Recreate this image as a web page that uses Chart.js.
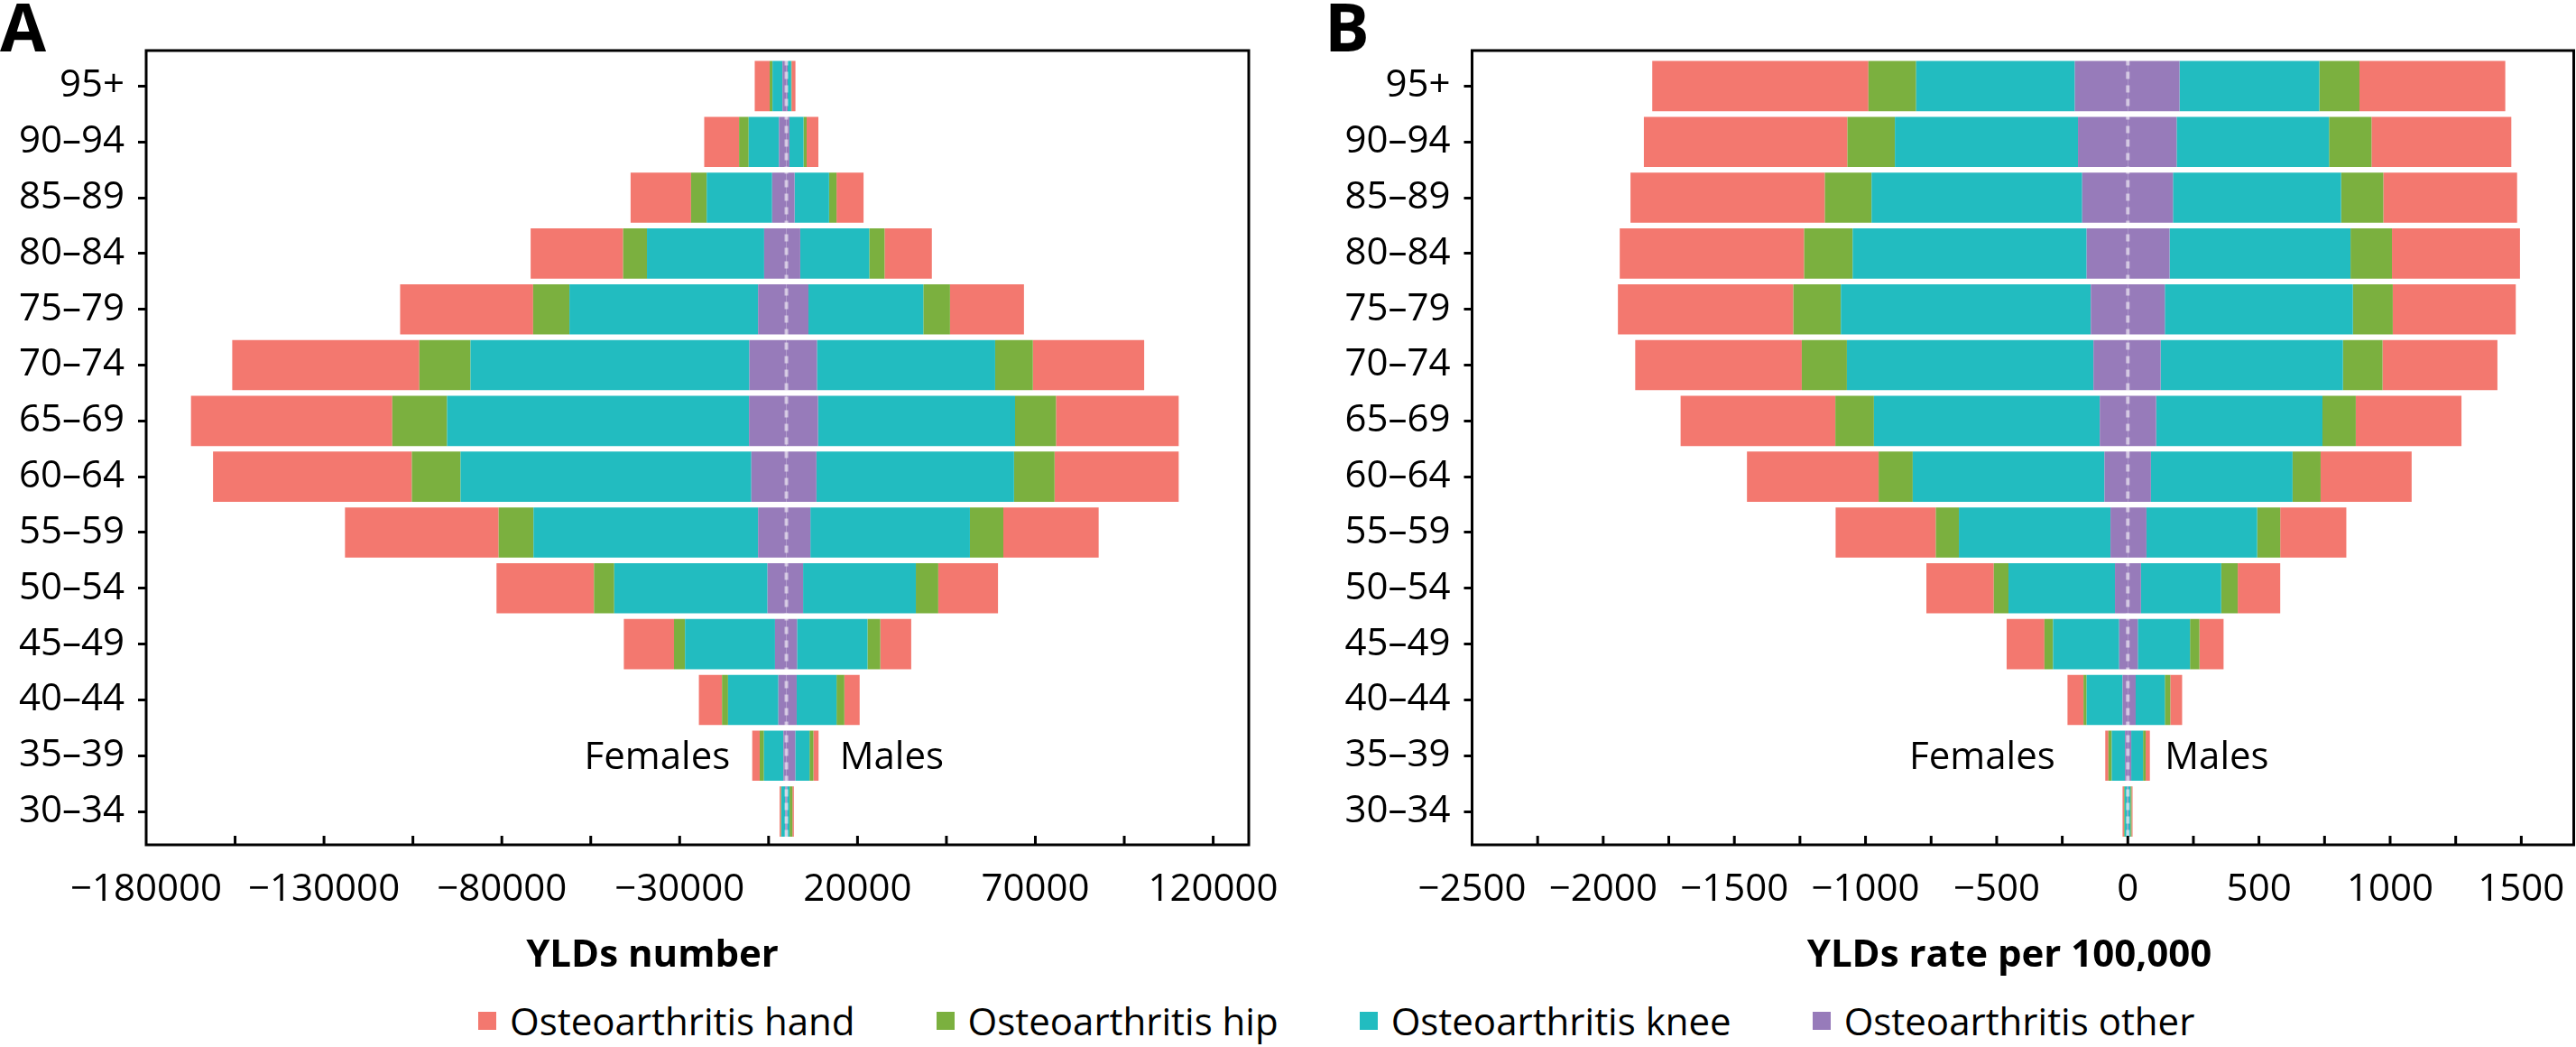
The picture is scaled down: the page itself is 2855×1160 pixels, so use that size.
<!DOCTYPE html>
<html>
<head>
<meta charset="utf-8">
<title>Osteoarthritis YLDs by age and sex</title>
<script src="https://cdn.jsdelivr.net/npm/chart.js@4.4.1/dist/chart.umd.min.js"></script>
<style>
  html, body { margin: 0; padding: 0; background: #fff; }
  body { width: 2855px; height: 1160px; position: relative; overflow: hidden; font-family: 'Open Sans', sans-serif; }
  #panelA { position: absolute; left: 0; top: 0; }
  #panelB { position: absolute; left: 1440px; top: 0; }
  #legend { position: absolute; left: 530px; top: 1106px; display: flex; align-items: center; font-size: 42px; line-height: 50px; color: #000; }
  .item { display: flex; align-items: center; margin-right: 90px; white-space: nowrap; }
  .swatch { width: 20px; height: 20px; margin-right: 15px; }
</style>
</head>
<body>
<canvas id="panelA" width="1425" height="1100"></canvas>
<canvas id="panelB" width="1415" height="1100"></canvas>
<div id="legend"></div>

<script>
// Age groups, top to bottom
const ageGroups = ['95+', '90–94', '85–89', '80–84', '75–79', '70–74', '65–69',
                   '60–64', '55–59', '50–54', '45–49', '40–44', '35–39', '30–34'];

// Panel A: YLDs number (magnitudes, females drawn to the left)
const femaleOtherNum = [1100, 2070, 4000, 6250, 7950, 10400, 10500, 9850, 7950, 5300, 3200, 2250, 830, 300];
const femaleKneeNum  = [2800, 8530, 18400, 32950, 53050, 78400, 84900, 81750, 63150, 43100, 25300, 14150, 5470, 1100];
const femaleHipNum   = [800, 2700, 4400, 6700, 10200, 14400, 15400, 13700, 9800, 5700, 3100, 1700, 1200, 100];
const femaleHandNum  = [4200, 9800, 17000, 26000, 37400, 52600, 56600, 55900, 43200, 27400, 14100, 6500, 2100, 400];
const maleOtherNum   = [350, 860, 2300, 3900, 6200, 8600, 8900, 8450, 6750, 4700, 3000, 2900, 2500, 200];
const maleKneeNum    = [1000, 3940, 9700, 19400, 32300, 50100, 55400, 55550, 44850, 31700, 19800, 11200, 4000, 700];
const maleHipNum     = [100, 900, 2100, 4300, 7500, 10600, 11500, 11400, 9400, 6300, 3600, 2200, 1100, 800];
const maleHandNum    = [1100, 3300, 7600, 13300, 20800, 31300, 34500, 34900, 26800, 16800, 8700, 4300, 1450, 400];

// Panel B: YLDs rate per 100,000
const femaleOtherRate = [202, 190, 174, 157, 141, 131, 107, 89, 66, 49, 33, 20, 11, 2];
const femaleKneeRate  = [605, 698, 803, 892, 953, 940, 861, 731, 578, 406, 252, 137, 50, 10];
const femaleHipRate   = [182, 181, 178, 185, 181, 172, 147, 130, 88, 56, 33, 12, 13, 3];
const femaleHandRate  = [824, 776, 741, 703, 669, 635, 590, 502, 382, 257, 144, 61, 12, 5];
const maleOtherRate   = [197, 186, 172, 159, 141, 125, 108, 88, 71, 50, 38, 30, 13, 2];
const maleKneeRate    = [533, 581, 641, 690, 717, 695, 634, 540, 422, 306, 199, 111, 45, 8];
const maleHipRate     = [153, 162, 161, 158, 152, 151, 127, 107, 88, 63, 36, 21, 10, 4];
const maleHandRate    = [556, 533, 510, 488, 469, 438, 403, 347, 252, 162, 92, 45, 16, 4];

// Axis ticks (marks every step, labels on every other one)
const xTicksNum  = [-180000, -155000, -130000, -105000, -80000, -55000, -30000, -5000, 20000, 45000, 70000, 95000, 120000];
const xLabelsNum = [-180000, -130000, -80000, -30000, 20000, 70000, 120000];
const xTicksRate  = [-2500, -2250, -2000, -1750, -1500, -1250, -1000, -750, -500, -250, 0, 250, 500, 750, 1000, 1250, 1500];
const xLabelsRate = [-2500, -2000, -1500, -1000, -500, 0, 500, 1000, 1500];

const causes = ['Osteoarthritis hand', 'Osteoarthritis hip', 'Osteoarthritis knee', 'Osteoarthritis other'];
const causeColors = {
    'Osteoarthritis hand': '#F3786F',
    'Osteoarthritis hip': '#7BB03F',
    'Osteoarthritis knee': '#22BCC0',
    'Osteoarthritis other': '#977BBA'
};

Chart.defaults.font.family = '"Open Sans", sans-serif';
Chart.defaults.color = '#000';

function formatTick(v) {
    return v < 0 ? '\u2212' + Math.abs(v) : String(v);
}

// box, inward x ticks, zero line and text around each panel
const panelDecor = {
    id: 'panelDecor',
    afterDatasetsDraw(chart) {
        const { ctx, chartArea: area, scales: { x } } = chart;
        const zero = x.getPixelForValue(0);
        ctx.save();
        ctx.strokeStyle = 'rgba(255, 255, 255, 0.55)';
        ctx.lineWidth = 4;
        ctx.setLineDash([8, 7]);
        ctx.beginPath();
        ctx.moveTo(zero, area.top);
        ctx.lineTo(zero, area.bottom);
        ctx.stroke();
        ctx.restore();
    },
    afterDraw(chart, args, opts) {
        const { ctx, chartArea: area, scales: { x, y } } = chart;
        const top = area.top - 8.5;
        const bottom = area.bottom + 6;
        ctx.save();
        ctx.strokeStyle = '#000';
        ctx.lineWidth = 3;
        ctx.strokeRect(area.left, top, area.right - area.left, bottom - top);

        ctx.beginPath();
        x.ticks.forEach(t => {
            if (t.value === x.min) return;
            const px = x.getPixelForValue(t.value);
            ctx.moveTo(px, bottom);
            ctx.lineTo(px, bottom - 10);
        });
        ctx.stroke();

        ctx.fillStyle = '#000';
        ctx.textBaseline = 'alphabetic';
        ctx.font = 'bold 74px "Open Sans"';
        ctx.textAlign = 'left';
        ctx.fillText(opts.letter, opts.letterX, 57);

        ctx.font = 'bold 42px "Open Sans"';
        ctx.textAlign = 'center';
        ctx.fillText(opts.title, opts.titleX, 1071);

        const rowY = y.getPixelForValue(ageGroups.indexOf('35–39')) + 15;
        ctx.font = '42px "Open Sans"';
        ctx.textAlign = 'right';
        ctx.fillText('Females', x.getPixelForValue(opts.femaleAt), rowY);
        ctx.textAlign = 'left';
        ctx.fillText('Males', x.getPixelForValue(opts.maleAt), rowY);
        ctx.restore();
    }
};

function buildDatasets(female, male) {
    const sets = [];
    // inner to outer: other, knee, hip, hand
    ['Osteoarthritis other', 'Osteoarthritis knee', 'Osteoarthritis hip', 'Osteoarthritis hand'].forEach(c => {
        sets.push({ label: c + ' (F)', data: female[c].map(v => -v), backgroundColor: causeColors[c], stack: 'all' });
    });
    ['Osteoarthritis other', 'Osteoarthritis knee', 'Osteoarthritis hip', 'Osteoarthritis hand'].forEach(c => {
        sets.push({ label: c + ' (M)', data: male[c], backgroundColor: causeColors[c], stack: 'all' });
    });
    sets.forEach(s => {
        s.barPercentage = 0.9;
        s.categoryPercentage = 1.0;
        s.borderWidth = 0;
    });
    return sets;
}

function createPanel(id, cfg) {
    const ctx = document.getElementById(id).getContext('2d');
    new Chart(ctx, {
        type: 'bar',
        data: {
            labels: ageGroups,
            datasets: buildDatasets(cfg.female, cfg.male)
        },
        plugins: [panelDecor],
        options: {
            indexAxis: 'y',
            responsive: false,
            animation: false,
            layout: {
                padding: { left: 0, top: 64.5, right: cfg.padRight, bottom: 0 }
            },
            plugins: {
                legend: { display: false },
                tooltip: { enabled: false },
                panelDecor: {
                    letter: cfg.letter,
                    letterX: cfg.letterX,
                    title: cfg.title,
                    titleX: cfg.titleX,
                    femaleAt: cfg.femaleAt,
                    maleAt: cfg.maleAt
                }
            },
            scales: {
                x: {
                    type: 'linear',
                    stacked: true,
                    min: cfg.min,
                    max: cfg.max,
                    // hidden tick marks only push the labels down
                    grid: { display: false, drawTicks: true, tickLength: 31 },
                    border: { display: false },
                    afterBuildTicks: s => { s.ticks = cfg.ticks.map(v => ({ value: v })); },
                    afterFit: s => { s.height = 170; },
                    ticks: {
                        font: { size: 42 },
                        color: '#000',
                        padding: 0,
                        autoSkip: false,
                        maxRotation: 0,
                        minRotation: 0,
                        callback: v => cfg.labels.includes(v) ? formatTick(v) : ''
                    }
                },
                y: {
                    type: 'category',
                    stacked: true,
                    grid: {
                        display: true,
                        drawOnChartArea: false,
                        drawTicks: true,
                        tickLength: 9,
                        tickWidth: 3,
                        tickColor: '#000',
                        offset: false
                    },
                    border: { display: false },
                    afterFit: s => { s.width = cfg.yWidth; },
                    ticks: {
                        font: { size: 42 },
                        color: '#000',
                        padding: 15,
                        autoSkip: false
                    }
                }
            }
        }
    });
}

createPanel('panelA', {
    female: {
        'Osteoarthritis other': femaleOtherNum, 'Osteoarthritis knee': femaleKneeNum,
        'Osteoarthritis hip': femaleHipNum, 'Osteoarthritis hand': femaleHandNum
    },
    male: {
        'Osteoarthritis other': maleOtherNum, 'Osteoarthritis knee': maleKneeNum,
        'Osteoarthritis hip': maleHipNum, 'Osteoarthritis hand': maleHandNum
    },
    min: -180000, max: 130000,
    ticks: xTicksNum, labels: xLabelsNum,
    yWidth: 162, padRight: 41,
    letter: 'A', letterX: 0,
    title: 'YLDs number', titleX: 723,
    femaleAt: -15800, maleAt: 15000
});

createPanel('panelB', {
    female: {
        'Osteoarthritis other': femaleOtherRate, 'Osteoarthritis knee': femaleKneeRate,
        'Osteoarthritis hip': femaleHipRate, 'Osteoarthritis hand': femaleHandRate
    },
    male: {
        'Osteoarthritis other': maleOtherRate, 'Osteoarthritis knee': maleKneeRate,
        'Osteoarthritis hip': maleHipRate, 'Osteoarthritis hand': maleHandRate
    },
    min: -2500, max: 1700,
    ticks: xTicksRate, labels: xLabelsRate,
    yWidth: 191.5, padRight: 2.5,
    letter: 'B', letterX: 28,
    title: 'YLDs rate per 100,000', titleX: 787,
    femaleAt: -277, maleAt: 141
});

// shared legend under both panels
const legend = document.getElementById('legend');
causes.forEach(c => {
    const item = document.createElement('div');
    item.className = 'item';
    const sw = document.createElement('span');
    sw.className = 'swatch';
    sw.style.background = causeColors[c];
    const txt = document.createElement('span');
    txt.textContent = c;
    item.appendChild(sw);
    item.appendChild(txt);
    legend.appendChild(item);
});
</script>
</body>
</html>
